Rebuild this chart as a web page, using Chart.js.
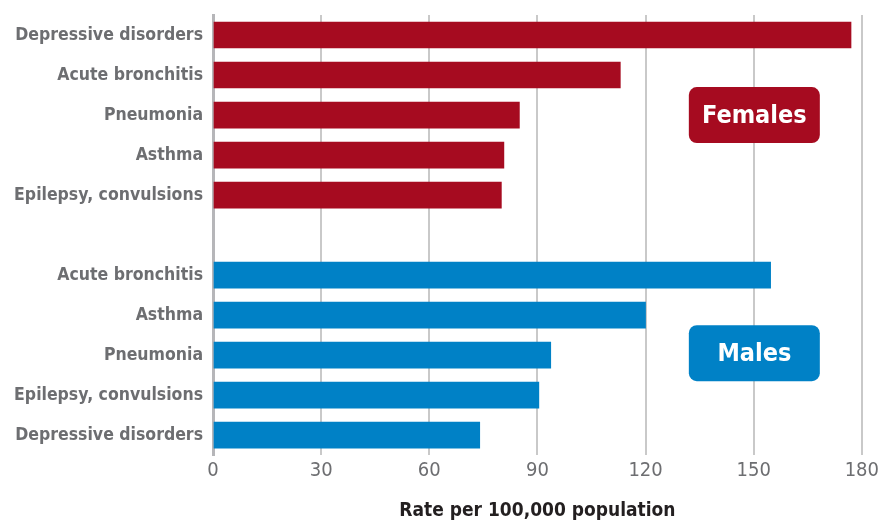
<!DOCTYPE html>
<html>
<head>
<meta charset="utf-8">
<script src="https://cdn.jsdelivr.net/npm/chart.js@4/dist/chart.umd.min.js"></script>
<style>
  html, body { margin: 0; padding: 0; background: #fff; }
  #wrap { width: 883px; height: 522px; position: relative; }
</style>
</head>
<body>
<div id="wrap"><canvas id="myChart"></canvas></div>
<script>
// data
const categories = [
  'Depressive disorders', 'Acute bronchitis', 'Pneumonia', 'Asthma', 'Epilepsy, convulsions',
  '',
  'Acute bronchitis', 'Asthma', 'Pneumonia', 'Epilepsy, convulsions', 'Depressive disorders'
];
const femaleValues = [177, 113, 85, 80.7, 80, null, null, null, null, null, null];
const maleValues = [null, null, null, null, null, null, 154.7, 120, 93.7, 90.4, 74];
const xTicks = [0, 30, 60, 90, 120, 150, 180];
const groupLabels = ['Females', 'Males'];

const RED = '#a60b20';
const BLUE = '#0081c6';
const FONT = "'DejaVu Sans Condensed', 'Roboto', sans-serif";

// group tag boxes, drawn after the bars
const groupTags = {
  id: 'groupTags',
  afterDraw(chart) {
    const c = chart.ctx;
    const area = chart.chartArea;
    const yScale = chart.scales.y;
    const tags = [
      { text: groupLabels[0], color: RED, y: yScale.getPixelForValue(2) },
      { text: groupLabels[1], color: BLUE, y: yScale.getPixelForValue(8) - 2 }
    ];
    const w = 131, h = 56;
    const right = area.right - 42;
    tags.forEach(function(t) {
      c.save();
      c.fillStyle = t.color;
      c.beginPath();
      c.roundRect(right - w, t.y - h / 2, w, h, 8);
      c.fill();
      c.fillStyle = '#fff';
      c.font = "bold 25px " + FONT;
      c.textAlign = 'center';
      c.textBaseline = 'middle';
      c.fillText(t.text, right - w / 2, t.y + 1);
      c.restore();
    });
  }
};

const ctx = document.getElementById('myChart').getContext('2d');
const myChart = new Chart(ctx, {
  type: 'bar',
  data: {
    labels: categories,
    datasets: [
      {
        label: 'Females',
        data: femaleValues,
        backgroundColor: RED,
        barThickness: 26,
      },
      {
        label: 'Males',
        data: maleValues,
        backgroundColor: BLUE,
        barThickness: 26,
      },
    ],
  },
  options: {
    indexAxis: 'y',
    responsive: true,
    maintainAspectRatio: false,
    animation: false,
    grouped: false,
    layout: {
      padding: { top: 15, right: 21, bottom: 0, left: 0 }
    },
    scales: {
      x: {
        min: 0,
        max: 180,
        afterBuildTicks: function(scale) {
          scale.ticks = xTicks.map(v => ({ value: v }));
        },
        grid: {
          color: function(c) { return c.tick && c.tick.value === 0 ? 'rgba(0,0,0,0)' : '#c9c9c9'; },
          lineWidth: 2,
          drawTicks: false,
        },
        border: { display: false },
        ticks: {
          color: '#6d6e71',
          padding: 4,
          font: { family: FONT, size: 20 },
        },
        title: {
          display: true,
          text: 'Rate per 100,000 population',
          color: '#231f20',
          padding: { top: 12, bottom: 0 },
          font: { family: FONT, size: 19, weight: 'bold' },
        },
      },
      y: {
        afterFit: function(scale) {
          scale.width = 213;
          scale.paddingTop = 0;
          scale.paddingBottom = 0;
        },
        grid: { display: false, drawTicks: false },
        border: { display: true, color: '#b6b6b9', width: 3 },
        ticks: {
          color: '#6d6e71',
          padding: 10,
          autoSkip: false,
          font: { family: FONT, size: 17.5, weight: 'bold' },
        },
      },
    },
    plugins: {
      legend: { display: false },
      tooltip: { enabled: false },
    },
  },
  plugins: [groupTags],
});
</script>
</body>
</html>
